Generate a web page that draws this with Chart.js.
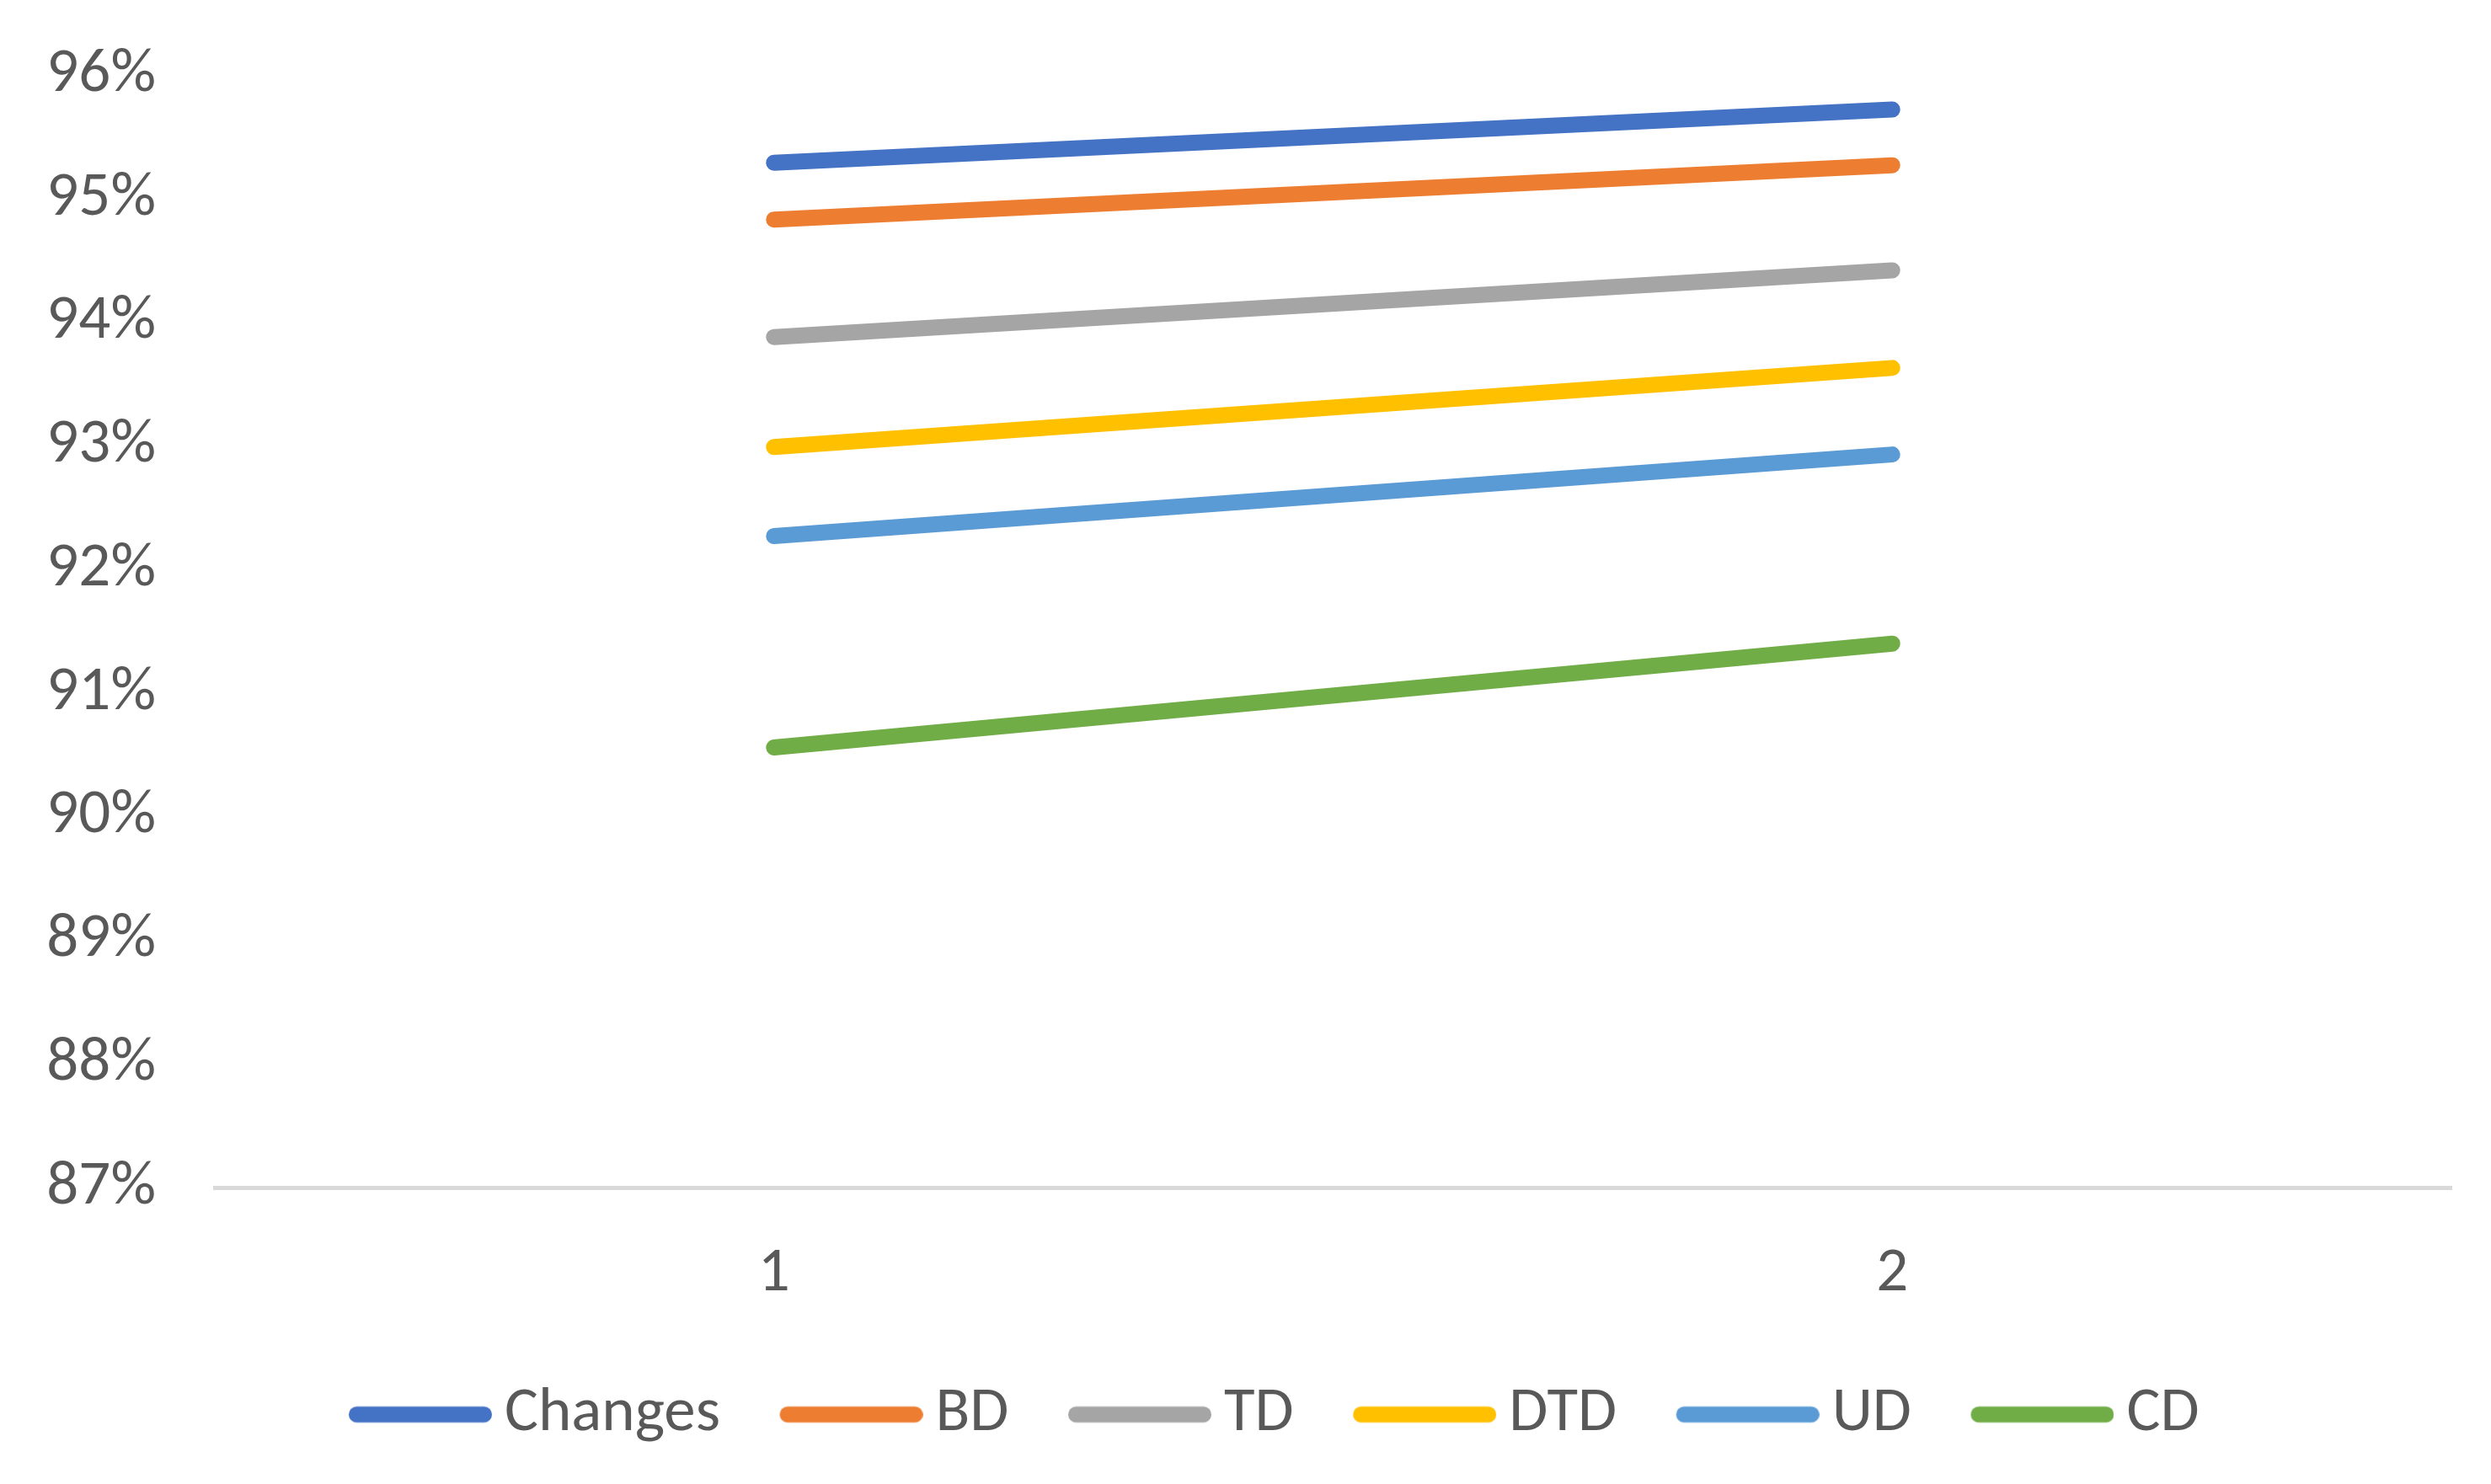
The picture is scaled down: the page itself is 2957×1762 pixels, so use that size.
<!DOCTYPE html>
<html>
<head>
<meta charset="utf-8">
<script src="https://cdn.jsdelivr.net/npm/chart.js@4"></script>
<style>
    html, body { margin: 0; padding: 0; background: #fff; }
    #wrap { width: 2957px; height: 1762px; position: relative; }
</style>
</head>
<body>
<div id="wrap"><canvas id="chart"></canvas></div>
<script>
// values (percent)
const categories = ['1', '2'];
const seriesNames = ['Changes', 'BD', 'TD', 'DTD', 'UD', 'CD'];
const changes = [95.29, 95.72];
const bd = [94.83, 95.27];
const td = [93.88, 94.42];
const dtd = [92.99, 93.63];
const ud = [92.27, 92.93];
const cd = [90.56, 91.40];
const yTicks = [87, 88, 89, 90, 91, 92, 93, 94, 95, 96];

const colors = ['#4472C4', '#ED7D31', '#A5A5A5', '#FFC000', '#5B9BD5', '#70AD47'];
const allSeries = [changes, bd, td, dtd, ud, cd];
const FONT = 'Carlito, Lato, sans-serif';
const FONT_SIZE = 75;
const LINE_W = 19;

// legend swatch: rounded line, placed so it sits close to the label text
function makeSwatch(color) {
    const c = document.createElement('canvas');
    c.width = 193;
    c.height = 22;
    const g = c.getContext('2d');
    g.strokeStyle = color;
    g.lineWidth = LINE_W;
    g.lineCap = 'round';
    g.beginPath();
    g.moveTo(23 + LINE_W / 2, 11);
    g.lineTo(193 - LINE_W / 2, 11);
    g.stroke();
    return c;
}

const datasets = allSeries.map((vals, i) => ({
    label: seriesNames[i],
    data: vals,
    borderColor: colors[i],
    backgroundColor: colors[i],
    borderWidth: LINE_W,
    borderCapStyle: 'round',
    pointRadius: 0,
    pointStyle: makeSwatch(colors[i]),
    tension: 0,
    fill: false
}));

// the legend sits a little right of centre in the original
const legendShift = {
    id: 'legendShift',
    afterLayout(chart) {
        chart.legend.left += 57;
        chart.legend.right += 57;
    }
};

new Chart(document.getElementById('chart'), {
    type: 'line',
    data: { labels: categories, datasets },
    plugins: [legendShift],
    options: {
        responsive: true,
        maintainAspectRatio: false,
        animation: false,
        layout: { padding: { top: 89, right: 47, bottom: 35, left: 0 } },
        plugins: {
            legend: {
                position: 'bottom',
                labels: {
                    usePointStyle: true,
                    pointStyleWidth: 148,
                    padding: 70,
                    color: '#595959',
                    font: { family: FONT, size: FONT_SIZE }
                }
            },
            tooltip: { enabled: false }
        },
        scales: {
            x: {
                offset: true,
                afterFit: s => { s.height = 162; },
                grid: { display: false },
                border: { display: true, color: '#D9D9D9', width: 5 },
                ticks: { color: '#595959', padding: 50, font: { family: FONT, size: FONT_SIZE } }
            },
            y: {
                min: yTicks[0],
                max: yTicks[yTicks.length - 1],
                afterFit: s => { s.width = 255; },
                afterBuildTicks: s => { s.ticks = yTicks.map(v => ({ value: v })); },
                grid: {
                    display: true,
                    drawOnChartArea: false,
                    drawTicks: true,
                    tickLength: 70,
                    color: 'rgba(0,0,0,0)'
                },
                border: { display: false },
                ticks: {
                    color: '#595959',
                    padding: 0,
                    font: { family: FONT, size: FONT_SIZE },
                    callback: v => v + '%'
                }
            }
        }
    }
});
</script>
</body>
</html>
